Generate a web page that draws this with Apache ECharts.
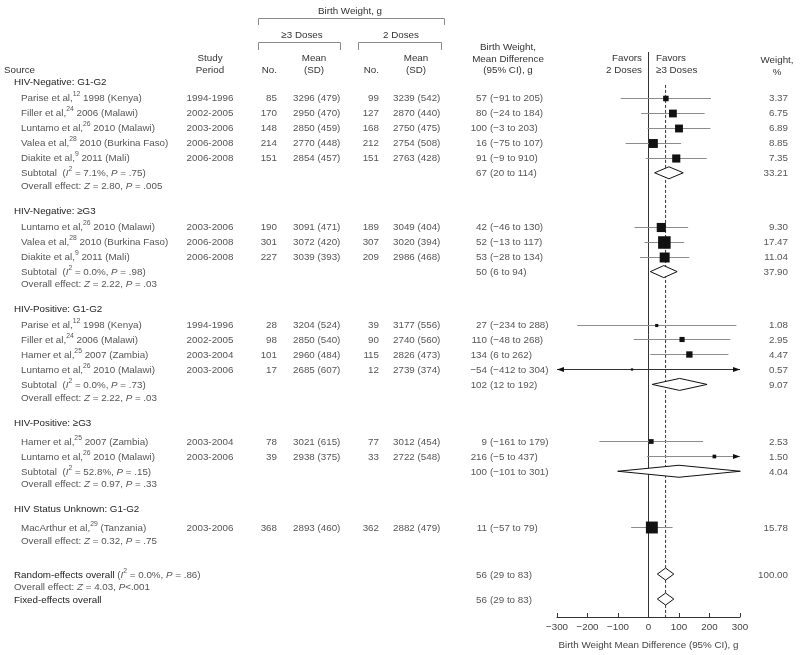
<!DOCTYPE html>
<html><head><meta charset="utf-8">
<script src="https://cdn.jsdelivr.net/npm/echarts@6/dist/echarts.min.js"></script>
<style>html,body{margin:0;padding:0;background:#fff}#c{width:800px;height:655px}</style>
</head><body><div id="c"></div>
<script>
// ---------------- DATA ----------------
const groupNames = ["HIV-Negative: G1-G2", "HIV-Negative: \u2265G3", "HIV-Positive: G1-G2", "HIV-Positive: \u2265G3", "HIV Status Unknown: G1-G2"];
const studyGroup = [0,0,0,0,0, 1,1,1, 2,2,2,2, 3,3, 4];
const studyAuthor = ["Parise et al,","Filler et al,","Luntamo et al,","Valea et al,","Diakite et al,","Luntamo et al,","Valea et al,","Diakite et al,","Parise et al,","Filler et al,","Hamer et al,","Luntamo et al,","Hamer et al,","Luntamo et al,","MacArthur et al,"];
const studyRef = ["12","24","26","28","9","26","28","9","12","24","25","26","25","26","29"];
const studyRest = ["1998 (Kenya)","2006 (Malawi)","2010 (Malawi)","2010 (Burkina Faso)","2011 (Mali)","2010 (Malawi)","2010 (Burkina Faso)","2011 (Mali)","1998 (Kenya)","2006 (Malawi)","2007 (Zambia)","2010 (Malawi)","2007 (Zambia)","2010 (Malawi)","(Tanzania)"];
const studyPeriod = ["1994-1996","2002-2005","2003-2006","2006-2008","2006-2008","2003-2006","2006-2008","2006-2008","1994-1996","2002-2005","2003-2004","2003-2006","2003-2004","2003-2006","2003-2006"];
const n3 = [85,170,148,214,151,190,301,227,28,98,101,17,78,39,368];
const mean3 = [3296,2950,2850,2770,2854,3091,3072,3039,3204,2850,2960,2685,3021,2938,2893];
const sd3 = [479,470,459,448,457,471,420,393,524,540,484,607,615,375,460];
const n2 = [99,127,168,212,151,189,307,209,39,90,115,12,77,33,362];
const mean2 = [3239,2870,2750,2754,2763,3049,3020,2986,3177,2740,2826,2739,3012,2722,2882];
const sd2 = [542,440,475,508,428,404,394,468,556,560,473,374,454,548,479];
const md = [57,80,100,16,91,42,52,53,27,110,134,-54,9,216,11];
const lo = [-91,-24,-3,-75,-9,-46,-13,-28,-234,-48,6,-412,-161,-5,-57];
const hi = [205,184,203,107,191,130,117,134,288,268,262,304,179,437,79];
const hiPrinted = [205,184,203,107,910,130,117,134,288,268,262,304,179,437,79]; // table prints 910 for Diakite; its bar ends near 191
const weight = [3.37,6.75,6.89,8.85,7.35,9.30,17.47,11.04,1.08,2.95,4.47,0.57,2.53,1.50,15.78];

const subI2 = ["7.1%","0.0%","0.0%","52.8%"];
const subP = [".75",".98",".73",".15"];
const subMd = [67,50,102,100];
const subLo = [20,6,12,-101];
const subHi = [114,94,192,301];
const subWeight = [33.21,37.90,9.07,4.04];
const groupZ = ["2.80","2.22","2.22","0.97","0.32"];
const groupP = [".005",".03",".03",".33",".75"];

const totalMd = 56, totalLo = 29, totalHi = 83, totalWeight = 100.00;
const totalI2 = "0.0%", totalP = ".86", totalZ = "4.03", totalZP = "<.001";
const xTicks = [-300,-200,-100,0,100,200,300];

// ---------------- LAYOUT ----------------
const FONT = '"Liberation Sans", Arial, Helvetica, sans-serif';
const FS = 9.8;
const TXT = '#555555', DARK = '#222222', LINEC = '#8c8c8c';
const XMIN = xTicks[0], XMAX = xTicks[xTicks.length-1];
const X = {src:4, grp:14, study:21, period:210, n3:277, m3:293, n2:379, m2:393, est:487, ci:490, w:788};
const fmt = v => v < 0 ? '\u2212' + Math.abs(v) : String(v);

const rows = [];
let y = 82;
groupNames.forEach((g, gi) => {
  if (gi > 0) y += 25;
  rows.push({type:'group', gi, y});
  y += gi < 3 ? 16 : 19;
  let first = true;
  studyGroup.forEach((sg, si) => {
    if (sg !== gi) return;
    if (!first) y += 15;
    first = false;
    rows.push({type:'study', si, y});
  });
  if (gi < subMd.length) { y += 15; rows.push({type:'sub', gi, y}); }
  y += 12.5; rows.push({type:'overall', gi, y});
});
y += 34; rows.push({type:'random', y});
y += 12; rows.push({type:'randomZ', y});
y += 13; rows.push({type:'fixed', y});

const rich = {
  n: {fontSize: FS, fontFamily: FONT, fill: TXT, lineHeight: 14},
  i: {fontSize: FS, fontFamily: FONT, fill: TXT, fontStyle: 'italic', lineHeight: 14},
  s: {fontSize: 6.8, fontFamily: FONT, fill: TXT, lineHeight: 8, verticalAlign: 'top'},
  d: {fontSize: FS, fontFamily: FONT, fill: DARK, lineHeight: 14}
};

const G = [];
function txt(x, yy, text, align, opts) {
  opts = opts || {};
  G.push({type:'text', x: x, y: Math.round(yy), silent: true, style: Object.assign({
    text: text, font: FS + 'px ' + FONT, fontSize: FS, fontFamily: FONT,
    fill: opts.fill || TXT, align: align, textAlign: align,
    verticalAlign: 'middle', textVerticalAlign: 'middle',
    lineHeight: opts.lh || 12
  }, opts.rich ? {rich: rich} : {})});
}
function pl(points) {
  G.push({type:'polyline', silent: true, shape:{points: points}, style:{stroke:'#8a8a8a', lineWidth:1, fill:null}});
}

// header
txt(350, 11, 'Birth Weight, g', 'center', {fill:'#333'});
pl([[258.5,25],[258.5,18.5],[444.5,18.5],[444.5,25]]);
txt(302, 35, '\u22653 Doses', 'center', {fill:'#333'});
txt(401, 35, '2 Doses', 'center', {fill:'#333'});
pl([[258.5,50],[258.5,42.5],[340.5,42.5],[340.5,50]]);
pl([[358.5,50],[358.5,42.5],[441.5,42.5],[441.5,50]]);
txt(X.src, 70, 'Source', 'left', {fill:'#333'});
txt(X.period, 64, 'Study\nPeriod', 'center', {fill:'#333'});
txt(X.n3, 70, 'No.', 'right', {fill:'#333'});
txt(314, 64, 'Mean\n(SD)', 'center', {fill:'#333'});
txt(X.n2, 70, 'No.', 'right', {fill:'#333'});
txt(416, 64, 'Mean\n(SD)', 'center', {fill:'#333'});
txt(508, 59, 'Birth Weight,\nMean Difference\n(95% CI), g', 'center', {fill:'#333', lh: 11.5});
txt(642, 64, 'Favors\n2 Doses', 'right', {fill:'#333'});
txt(656, 64, 'Favors\n\u22653 Doses', 'left', {fill:'#333'});
txt(777, 66, 'Weight,\n%', 'center', {fill:'#333'});

const forest = [];
rows.forEach(r => {
  if (r.type === 'group') {
    txt(X.grp, r.y, groupNames[r.gi], 'left', {fill: DARK});
  } else if (r.type === 'study') {
    const i = r.si;
    txt(X.study, r.y, '{n|' + studyAuthor[i] + '}{s|' + studyRef[i] + '}{n| ' + studyRest[i] + '}', 'left', {rich:true});
    txt(X.period, r.y, studyPeriod[i], 'center');
    txt(X.n3, r.y, String(n3[i]), 'right');
    txt(X.m3, r.y, mean3[i] + ' (' + sd3[i] + ')', 'left');
    txt(X.n2, r.y, String(n2[i]), 'right');
    txt(X.m2, r.y, mean2[i] + ' (' + sd2[i] + ')', 'left');
    txt(X.est, r.y, fmt(md[i]), 'right');
    txt(X.ci, r.y, '(' + fmt(lo[i]) + ' to ' + fmt(hiPrinted[i]) + ')', 'left');
    txt(X.w, r.y, weight[i].toFixed(2), 'right');
    forest.push([md[i], lo[i], hi[i], Math.round(r.y), weight[i], 0]);
  } else if (r.type === 'sub') {
    const g = r.gi;
    txt(X.study, r.y, '{n|Subtotal  (}{i|I}{s|2}{n| = ' + subI2[g] + ', }{i|P}{n| = ' + subP[g] + ')}', 'left', {rich:true});
    txt(X.est, r.y, fmt(subMd[g]), 'right');
    txt(X.ci, r.y, '(' + fmt(subLo[g]) + ' to ' + fmt(subHi[g]) + ')', 'left');
    txt(X.w, r.y, subWeight[g].toFixed(2), 'right');
    forest.push([subMd[g], subLo[g], subHi[g], Math.round(r.y), subWeight[g], 1]);
  } else if (r.type === 'overall') {
    const g = r.gi;
    txt(X.study, r.y, '{n|Overall effect: }{i|Z}{n| = ' + groupZ[g] + ', }{i|P}{n| = ' + groupP[g] + '}', 'left', {rich:true});
  } else if (r.type === 'random') {
    txt(X.grp, r.y, '{d|Random-effects overall }{n|(}{i|I}{s|2}{n| = ' + totalI2 + ', }{i|P}{n| = ' + totalP + ')}', 'left', {rich:true});
    txt(X.est, r.y, fmt(totalMd), 'right');
    txt(X.ci, r.y, '(' + fmt(totalLo) + ' to ' + fmt(totalHi) + ')', 'left');
    txt(X.w, r.y, totalWeight.toFixed(2), 'right');
    forest.push([totalMd, totalLo, totalHi, Math.round(r.y), totalWeight, 1]);
  } else if (r.type === 'randomZ') {
    txt(X.grp, r.y, '{n|Overall effect: }{i|Z}{n| = ' + totalZ + ', }{i|P}{n|' + totalZP + '}', 'left', {rich:true});
  } else if (r.type === 'fixed') {
    txt(X.grp, r.y, 'Fixed-effects overall', 'left', {fill: DARK});
    txt(X.est, r.y, fmt(totalMd), 'right');
    txt(X.ci, r.y, '(' + fmt(totalLo) + ' to ' + fmt(totalHi) + ')', 'left');
    forest.push([totalMd, totalLo, totalHi, Math.round(r.y), totalWeight, 1]);
  }
});

const PLOT_TOP = 52, PLOT_BOTTOM = 618, DASH_TOP = 85;

function renderItem(params, api) {
  const est = api.value(0), l = api.value(1), h = api.value(2), yy = api.value(3), w = api.value(4), kind = api.value(5);
  const pe = api.coord([est, yy]);
  if (kind === 1) {
    const a = api.coord([l, yy]), b = api.coord([h, yy]);
    const hh = 6;
    return {type:'polygon', shape:{points:[[a[0],pe[1]],[pe[0],pe[1]-hh],[b[0],pe[1]],[pe[0],pe[1]+hh]]},
      style:{fill:'#fff', stroke:'#111', lineWidth:1}};
  }
  const cl = Math.max(l, XMIN), ch = Math.min(h, XMAX);
  const a = api.coord([cl, yy]), b = api.coord([ch, yy]);
  const yL = Math.round(pe[1]) + 0.5;
  const both = l < XMIN && h > XMAX;
  const kids = [{type:'line', shape:{x1:a[0], y1:yL, x2:b[0], y2:yL}, style:{stroke: both ? '#333' : LINEC, lineWidth:1}}];
  if (l < XMIN) kids.push({type:'polygon', shape:{points:[[a[0],yL],[a[0]+7,yL-2.5],[a[0]+7,yL+2.5]]}, style:{fill:'#111'}});
  if (h > XMAX) kids.push({type:'polygon', shape:{points:[[b[0],yL],[b[0]-7,yL-2.5],[b[0]-7,yL+2.5]]}, style:{fill:'#111'}});
  const s = 3 * Math.sqrt(w);
  kids.push({type:'rect', shape:{x:pe[0]-s/2, y:yL-s/2, width:s, height:s}, style:{fill:'#111'}});
  return {type:'group', children:kids};
}

const chart = echarts.init(document.getElementById('c'), null, {renderer:'canvas'});
chart.setOption({
  animation: false,
  backgroundColor: '#fff',
  grid: {left: 557, width: 183, top: PLOT_TOP, height: PLOT_BOTTOM - PLOT_TOP, containLabel: false},
  xAxis: {
    type: 'value', min: XMIN, max: XMAX, interval: 100,
    axisLine: {show: true, onZero: false, lineStyle: {color: '#333', width: 1}},
    axisTick: {show: true, inside: true, length: 4, lineStyle: {color: '#333'}},
    splitLine: {show: false},
    axisLabel: {formatter: v => fmt(v), color: '#444', fontSize: FS, fontFamily: FONT, margin: 5},
    name: 'Birth Weight Mean Difference (95% CI), g', nameLocation: 'middle', nameGap: 23,
    nameTextStyle: {color: '#444', fontSize: FS, fontFamily: FONT}
  },
  yAxis: {type: 'value', min: PLOT_TOP, max: PLOT_BOTTOM, inverse: true, show: false},
  graphic: {elements: G},
  series: [
    {type: 'line', data: [[0, PLOT_TOP], [0, PLOT_BOTTOM]], symbol: 'none', silent: true,
      lineStyle: {color: '#333', width: 1}},
    {type: 'line', data: [[totalMd, DASH_TOP], [totalMd, PLOT_BOTTOM]], symbol: 'none', silent: true,
      lineStyle: {color: '#333', width: 1, type: [3, 2]}},
    {type: 'custom', renderItem: renderItem, data: forest, silent: true, clip: false, z: 5}
  ]
});
</script></body></html>
